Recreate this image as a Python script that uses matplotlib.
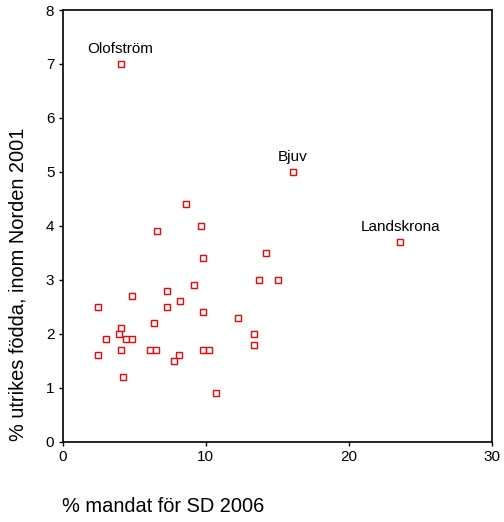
import matplotlib
matplotlib.use("Agg")
import matplotlib.pyplot as plt

plt.rcParams['font.family'] = ['Liberation Sans', 'DejaVu Sans']

# % mandat för SD 2006 vs % utrikes födda inom Norden 2001
sd_mandat = [4.05, 16.1, 23.6, 8.6, 6.6, 9.7, 9.8, 14.2, 13.75, 15.05,
             9.2, 7.3, 4.85, 2.45, 7.3, 8.2, 9.8, 12.26, 6.4, 4.06,
             3.96, 3.05, 4.45, 4.85, 13.35, 13.35, 4.06, 6.13, 6.53, 9.8,
             10.2, 2.45, 8.1, 7.8, 4.24, 10.7]
utrikes = [7.0, 5.0, 3.7, 4.4, 3.9, 4.0, 3.4, 3.5, 3.0, 3.0,
           2.9, 2.8, 2.7, 2.5, 2.5, 2.6, 2.4, 2.3, 2.2, 2.1,
           2.0, 1.9, 1.9, 1.9, 2.0, 1.8, 1.7, 1.7, 1.7, 1.7,
           1.7, 1.6, 1.6, 1.5, 1.2, 0.9]

labels = {"Olofström": 0, "Bjuv": 1, "Landskrona": 2}

fig = plt.figure(figsize=(5.04, 5.22), dpi=100)
ax = fig.add_axes([0.1244, 0.1538, 0.851, 0.827])

ax.plot(sd_mandat, utrikes, linestyle='none', marker='s', markersize=4.3,
        markerfacecolor='white', markeredgecolor='red', markeredgewidth=1.0)

for name, i in labels.items():
    ax.annotate(name, (sd_mandat[i], utrikes[i]), xytext=(0, 6),
                textcoords='offset points', ha='center', va='bottom',
                fontsize=11)

ax.set_xlim(0, 30)
ax.set_ylim(0, 8)
ax.set_xticks([0, 10, 20, 30])
ax.set_yticks(range(0, 9))
ax.tick_params(direction='out', length=3, width=1, labelsize=11, pad=3)
for s in ax.spines.values():
    s.set_linewidth(1.2)

fig.text(62 / 504, 1 - 507 / 522, "% mandat för SD 2006", fontsize=14.4,
         ha='left', va='center')
fig.text(18 / 504, 1 - 441 / 522, "% utrikes födda, inom Norden 2001",
         fontsize=14.4, rotation=90, ha='center', va='bottom')

fig.savefig("out.png", dpi=100)
